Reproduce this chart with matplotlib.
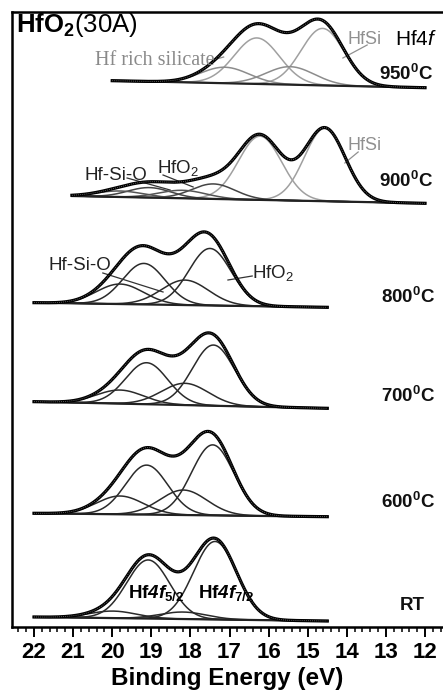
import numpy as np
import matplotlib
matplotlib.use("Agg")
import matplotlib.pyplot as plt
from matplotlib.ticker import MultipleLocator

plt.rcParams['font.family'] = ['Liberation Sans', 'DejaVu Sans']
plt.rcParams['mathtext.fontset'] = 'custom'
plt.rcParams['mathtext.rm'] = 'Liberation Sans'
plt.rcParams['mathtext.it'] = 'Liberation Sans:italic'
plt.rcParams['mathtext.bf'] = 'Liberation Sans:bold'
try:
    plt.rcParams['mathtext.bfit'] = 'Liberation Sans:italic:bold'
except KeyError:
    pass

# ---------------- data ----------------
spectra = ["RT", "600", "700", "800", "900", "950"]
e_start = [22.0, 22.0, 22.0, 22.0, 21.03, 20.0]      # high-BE end of each scan (eV)
e_end = [14.5, 14.5, 14.5, 14.5, 12.0, 12.0]         # low-BE end (eV)
bg_start = [10.0, 113.7, 225.3, 324.3, 431.0, 546.3]  # background level at e_start
bg_end = [6.0, 110.3, 218.7, 319.7, 423.7, 539.3]     # background level at e_end

# fitted components: centre (eV), height, sigma (eV), colour
comp_center = [
    [17.37, 19.08, 19.98, 18.19],
    [17.43, 19.12, 19.80, 18.18],
    [17.41, 19.12, 19.80, 18.14],
    [17.50, 19.19, 19.80, 18.14],
    [14.56, 16.22, 17.41, 19.05, 19.80, 18.20],
    [14.62, 16.30, 17.12, 15.45],
]
comp_height = [
    [78.0, 58.6, 7.0, 7.0],
    [70.5, 49.5, 18.3, 25.0],
    [60.7, 41.5, 13.6, 21.8],
    [57.0, 41.0, 20.0, 25.0],
    [73.0, 63.7, 15.0, 10.0, 6.0, 8.0],
    [57.0, 46.0, 16.0, 18.0],
]
comp_sigma = [
    [0.55, 0.55, 0.60, 0.60],
    [0.54, 0.54, 0.60, 0.60],
    [0.54, 0.54, 0.60, 0.60],
    [0.54, 0.54, 0.60, 0.60],
    [0.52, 0.55, 0.55, 0.55, 0.60, 0.60],
    [0.55, 0.58, 0.62, 0.62],
]
comp_color = [
    ["#2a2a2a"] * 4,
    ["#2a2a2a"] * 4,
    ["#2a2a2a"] * 4,
    ["#2a2a2a"] * 4,
    ["#a0a0a0", "#a0a0a0", "#444444", "#444444", "#555555", "#555555"],
    ["#a0a0a0", "#a0a0a0", "#8c8c8c", "#8c8c8c"],
]
temp_labels = ["RT", "600$^{\\mathbf{0}}$C", "700$^{\\mathbf{0}}$C",
               "800$^{\\mathbf{0}}$C", "900$^{\\mathbf{0}}$C", "950$^{\\mathbf{0}}$C"]
temp_label_y = [17, 119, 225, 324, 440, 547]
temp_label_x = [12.0, 11.74, 11.74, 11.74, 11.80, 11.80]

xticks = [22, 21, 20, 19, 18, 17, 16, 15, 14, 13, 12]

# ---------------- figure ----------------
fig = plt.figure(figsize=(4.43, 6.98), dpi=100)
ax = fig.add_axes([12 / 443, 1 - 627 / 698, 1 - 12 / 443, (627 - 12) / 698])
ax.set_xlim(22.563, 11.54)
ax.set_ylim(0, 615)

def gauss(x, c, h, s):
    return h * np.exp(-(x - c) ** 2 / (2 * s * s))

for i in range(len(spectra)):
    x = np.linspace(e_start[i], e_end[i], 600)
    bg = bg_start[i] + (bg_end[i] - bg_start[i]) * (x - e_start[i]) / (e_end[i] - e_start[i])
    total = bg.copy()
    for c, h, s, col in zip(comp_center[i], comp_height[i], comp_sigma[i], comp_color[i]):
        g = gauss(x, c, h, s)
        total += g
        ax.plot(x, bg + g, color=col, lw=1.1, zorder=2)
    ax.plot(x, bg, color="#222222", lw=1.6, zorder=2)
    ax.plot(x, total, color="black", lw=2.3, zorder=3)
    ax.plot(x, total, color="#777777", lw=0.6, zorder=4, ls=(0, (1, 1.5)))
    ax.text(temp_label_x[i], temp_label_y[i], temp_labels[i], ha="right", va="baseline",
            fontsize=13.5, fontweight="bold", color="#111111")

# ---------------- annotations ----------------
ax.text(22.46, 595, r"$\mathbf{HfO}_{\mathbf{2}}$(30A)", fontsize=18.5, ha="left", va="baseline")
ax.text(20.44, 562, "Hf rich silicate", fontsize=14.5, family=["Liberation Serif"],
        color="#8a8a8a", ha="left", va="baseline")
ax.plot([17.42, 17.15], [567, 570], color="#8a8a8a", lw=0.9)
ax.text(13.97, 583, "HfSi", fontsize=13, color="#909090", ha="left", va="baseline")
ax.plot([14.10, 13.48], [569, 582], color="#909090", lw=0.9)
ax.text(12.77, 582, r"Hf$\mathit{4f}$", fontsize=15, ha="left", va="baseline")

ax.text(20.70, 447, "Hf-Si-O", fontsize=13.5, ha="left", va="baseline", color="#222222")
ax.plot([19.62, 18.52], [449, 437], color="#333333", lw=0.9)
ax.text(18.85, 454, r"HfO$_{2}$", fontsize=13.5, ha="left", va="baseline", color="#222222")
ax.plot([18.70, 17.93], [452, 440], color="#333333", lw=0.9)
ax.text(13.97, 477, "HfSi", fontsize=13, color="#909090", ha="left", va="baseline")
ax.plot([14.05, 13.71], [464, 475], color="#909090", lw=0.9)

ax.text(21.64, 357, "Hf-Si-O", fontsize=13.5, ha="left", va="baseline", color="#222222")
ax.plot([20.24, 18.70], [354, 335], color="#333333", lw=0.9)
ax.text(16.42, 349, r"HfO$_{2}$", fontsize=13.5, ha="left", va="baseline", color="#222222")
ax.plot([17.04, 16.42], [347, 351], color="#333333", lw=0.9)

ax.text(19.60, 29, r"Hf$\mathbfit{4f}_{\mathbf{5/2}}$", fontsize=13.5, fontweight="bold",
        ha="left", va="baseline")
ax.text(17.81, 29, r"Hf$\mathbfit{4f}_{\mathbf{7/2}}$", fontsize=13.5, fontweight="bold",
        ha="left", va="baseline")

# ---------------- axes styling ----------------
ax.set_xticks(xticks)
ax.set_xticklabels([str(t) for t in xticks], fontsize=16, fontweight="bold")
ax.xaxis.set_minor_locator(MultipleLocator(0.2))
ax.tick_params(axis="x", which="major", direction="out", length=7, width=1.4, pad=4)
ax.tick_params(axis="x", which="minor", direction="out", length=3.5, width=1.1)
ax.set_yticks([])
for s in ["left", "top", "bottom"]:
    ax.spines[s].set_linewidth(1.8)
ax.spines["right"].set_visible(False)
ax.set_xlabel("Binding Energy (eV)", fontsize=17.5, fontweight="bold", labelpad=3)

fig.savefig("out.png", dpi=100)
